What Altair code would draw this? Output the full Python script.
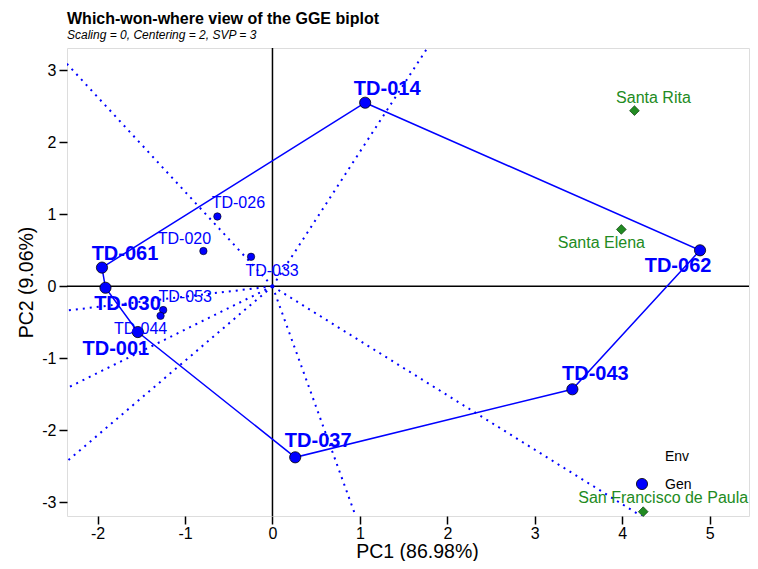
import altair as alt
import numpy as np
import pandas as pd

# ---------------- data ----------------
GEN_NAMES = ["TD-014", "TD-062", "TD-043", "TD-037", "TD-001", "TD-030", "TD-061",
             "TD-026", "TD-020", "TD-033", "TD-053", "TD-044"]
GEN_PC1 = [1.06, 4.89, 3.43, 0.26, -1.54, -1.91, -1.95, -0.63, -0.79, -0.245, -1.25, -1.28]
GEN_PC2 = [2.55, 0.50, -1.43, -2.375, -0.635, -0.02, 0.26, 0.97, 0.49, 0.41, -0.33, -0.41]

HULL = ["TD-014", "TD-062", "TD-043", "TD-037", "TD-001", "TD-030", "TD-061"]

ENV_NAMES = ["Santa Rita", "Santa Elena", "San Francisco de Paula"]
ENV_PC1 = [4.14, 3.99, 4.24]
ENV_PC2 = [2.44, 0.79, -3.13]

LEGEND_LABELS = ["Env", "Gen"]

TITLE = "Which-won-where view of the GGE biplot"
SUBTITLE = "Scaling = 0, Centering = 2, SVP = 3"
X_TITLE = "PC1 (86.98%)"
Y_TITLE = "PC2 (9.06%)"
X_TICKS = [-2, -1, 0, 1, 2, 3, 4, 5]
Y_TICKS = [-3, -2, -1, 0, 1, 2, 3]

# label nudges (pixels) from each point to its label centre
NUDGE = {
    "TD-014": (22, -14), "TD-062": (-22, 16), "TD-043": (23, -15), "TD-037": (23, -16),
    "TD-001": (-22, 17), "TD-030": (22, 16), "TD-061": (23, -14), "TD-026": (21, -13),
    "TD-020": (-19, -12), "TD-033": (21, 14), "TD-053": (22, -13), "TD-044": (-20, 13),
    "Santa Rita": (19, -13), "Santa Elena": (-20, 14), "San Francisco de Paula": (20, -14),
}

BLUE = "#0000FF"
GREEN = "#228B22"
FONT = "Liberation Sans"

gen = pd.DataFrame({"name": GEN_NAMES, "PC1": GEN_PC1, "PC2": GEN_PC2})
gen["hull"] = gen["name"].isin(HULL)
env = pd.DataFrame({"name": ENV_NAMES, "PC1": ENV_PC1, "PC2": ENV_PC2})

hull = gen.set_index("name").loc[HULL + [HULL[0]]].reset_index()
hull["ord"] = range(len(hull))

# perpendicular rays from origin to each hull side
rows = []
pts = hull[["PC1", "PC2"]].to_numpy()
for i in range(len(HULL)):
    a, b = pts[i], pts[i + 1]
    d = b - a
    t = -np.dot(a, d) / np.dot(d, d)
    p = a + t * d
    e = p / np.linalg.norm(p) * 20
    rows.append({"ray": i, "ord": 0, "PC1": 0.0, "PC2": 0.0})
    rows.append({"ray": i, "ord": 1, "PC1": e[0], "PC2": e[1]})
rays = pd.DataFrame(rows)

W, H = 682, 468

xs = alt.Scale(domain=[-2.35, 5.45], nice=False, zero=False)
ys = alt.Scale(domain=[-3.19, 3.31], nice=False, zero=False)

xaxis = alt.Axis(values=X_TICKS, title=X_TITLE, grid=False, domain=False,
                 tickSize=8, tickWidth=1.5, tickColor="black", labelPadding=1,
                 labelFontSize=16, labelFont=FONT, labelColor="black",
                 labelExpr="'' + datum.value",
                 titleFontSize=19.5, titleFont=FONT, titleFontWeight="normal",
                 titleColor="black", titleY=41, titleX=350,
                 titleBaseline="alphabetic")
yaxis = alt.Axis(values=Y_TICKS, title=Y_TITLE, grid=False, domain=False,
                 tickSize=8, tickWidth=1.5, tickColor="black", labelPadding=3,
                 labelFontSize=16, labelFont=FONT, labelColor="black",
                 labelExpr="'' + datum.value",
                 titleFontSize=19.5, titleFont=FONT, titleFontWeight="normal",
                 titleColor="black", titleX=-35, titleBaseline="alphabetic")

X = alt.X("PC1:Q", scale=xs, axis=xaxis)
Y = alt.Y("PC2:Q", scale=ys, axis=yaxis)

zero_df = pd.DataFrame({"PC1": [0.0], "PC2": [0.0]})
vline = alt.Chart(zero_df).mark_rule(color="black", strokeWidth=1.5).encode(x=X)
hline = alt.Chart(zero_df).mark_rule(color="black", strokeWidth=1.5).encode(y=Y)

ray_layer = alt.Chart(rays).mark_line(color=BLUE, strokeWidth=2, strokeDash=[2, 5],
                                      clip=True).encode(
    x=X, y=Y, detail="ray:N", order="ord:Q")

hull_layer = alt.Chart(hull).mark_line(color=BLUE, strokeWidth=1.5).encode(
    x=X, y=Y, order="ord:Q")

big = alt.Chart(gen).transform_filter("datum.hull").mark_point(
    shape="circle", filled=True, fill=BLUE, stroke="black", strokeWidth=0.8,
    size=125, opacity=1).encode(x=X, y=Y)
small = alt.Chart(gen).transform_filter("!datum.hull").mark_point(
    shape="circle", filled=True, fill=BLUE, stroke="black", strokeWidth=0.6,
    size=55, opacity=1).encode(x=X, y=Y)

env_pts = alt.Chart(env).mark_point(
    shape="diamond", filled=True, fill=GREEN, stroke="#0b3d0b", strokeWidth=0.7,
    size=95, opacity=1).encode(x=X, y=Y)

labels = []
for nm in GEN_NAMES:
    dx, dy = NUDGE[nm]
    isbig = nm in HULL
    labels.append(
        alt.Chart(gen).transform_filter(alt.datum.name == nm).mark_text(
            dx=dx, dy=dy, color=BLUE, font=FONT,
            fontSize=20 if isbig else 16,
            fontWeight="bold" if isbig else "normal",
            align="center", baseline="middle").encode(x=X, y=Y, text="name:N"))
for nm in ENV_NAMES:
    dx, dy = NUDGE[nm]
    labels.append(
        alt.Chart(env).transform_filter(alt.datum.name == nm).mark_text(
            dx=dx, dy=dy, color=GREEN, font=FONT, fontSize=16,
            align="center", baseline="middle").encode(x=X, y=Y, text="name:N"))

one = pd.DataFrame({"k": [0]})
leg_env = alt.Chart(one).mark_text(text=LEGEND_LABELS[0], font=FONT, fontSize=14,
                                   color="black", align="left",
                                   baseline="alphabetic").encode(
    x=alt.value(598), y=alt.value(413))
leg_gen = alt.Chart(one).mark_text(text=LEGEND_LABELS[1], font=FONT, fontSize=14,
                                   color="black", align="left",
                                   baseline="alphabetic").encode(
    x=alt.value(598), y=alt.value(441))
leg_dot = alt.Chart(one).mark_point(shape="circle", filled=True, fill=BLUE,
                                    stroke="black", strokeWidth=0.8, size=125,
                                    opacity=1).encode(
    x=alt.value(575), y=alt.value(436))

chart = alt.layer(
    vline, hline, ray_layer, hull_layer, big, small, env_pts, *labels,
    leg_env, leg_gen, leg_dot
).properties(
    width=W, height=H,
    title=alt.TitleParams(TITLE, subtitle=SUBTITLE, anchor="start", frame="group",
                          font=FONT, fontSize=16, fontWeight="bold", color="black",
                          subtitleFont=FONT, subtitleFontSize=12,
                          subtitleFontStyle="italic", subtitleColor="black",
                          offset=6, subtitlePadding=3),
    padding={"left": 59, "top": 40, "right": 1, "bottom": 45},
    autosize=alt.AutoSizeParams(type="none"),
).configure_view(
    fill="#F2F2F2", stroke="black", strokeWidth=2
).configure(background="white")

chart.save("out.html", embed_options={"renderer": "svg", "actions": False})
